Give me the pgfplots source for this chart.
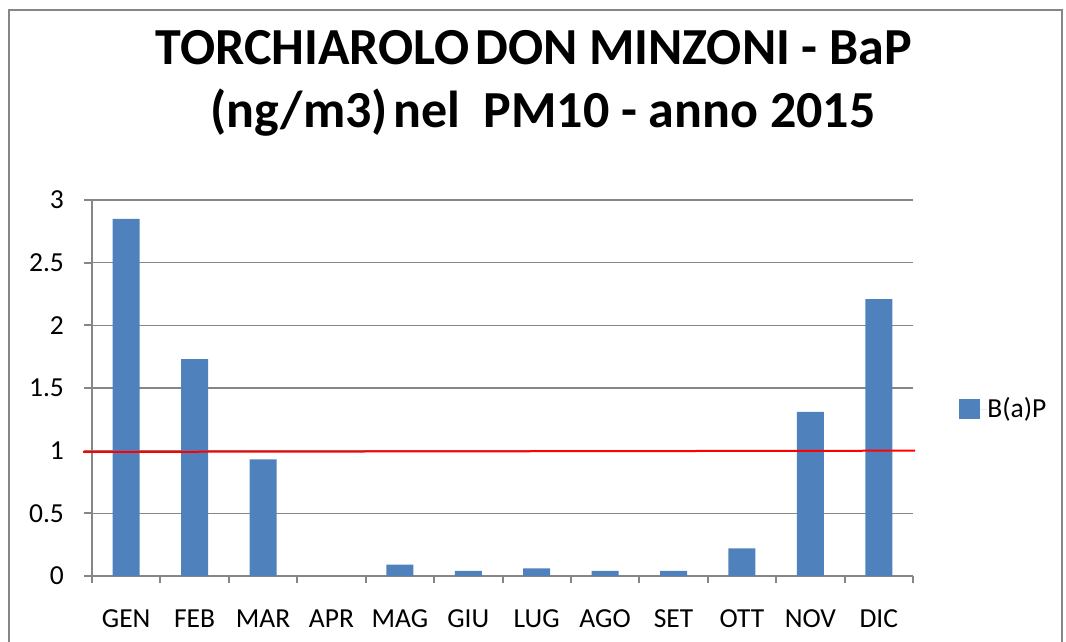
\documentclass[border=0pt]{standalone}
\usepackage{pgfplots}
\pgfplotsset{compat=1.18}
\usepackage{fontspec}
\setmainfont{Carlito}
\definecolor{barblue}{HTML}{4F81BD}
\definecolor{axgray}{HTML}{868686}
\begin{document}
\begin{tikzpicture}
\useasboundingbox (0,0) rectangle (533pt,-321pt);
\draw[axgray, line width=1pt] (4.5pt,-330pt) -- (4.5pt,-5pt) -- (531pt,-5pt) -- (531pt,-330pt);
\node[anchor=base, inner sep=0pt, font=\bfseries\fontsize{26}{31.5}\selectfont] at (267pt,-32.5pt) {TORCHIAROLO\hspace{0.1em}DON MINZONI - BaP};
\node[anchor=base, inner sep=0pt, font=\bfseries\fontsize{26}{31.5}\selectfont] at (271.5pt,-64pt) {(ng/m3)\hspace{0.1em}nel\ \ PM10 - anno 2015};
\begin{axis}[
  at={(46pt,-288pt)}, anchor=south west,
  scale only axis, width=410.5pt, height=188pt,
  xmin=-0.5, xmax=11.5, ymin=0, ymax=3,
  clip=false,
  axis x line*=bottom, axis y line*=left,
  axis line style={axgray, line width=1pt, -},
  xtick={0,...,11},
  xticklabels={GEN,FEB,MAR,APR,MAG,GIU,LUG,AGO,SET,OTT,NOV,DIC},
  minor xtick={-0.5,0.5,...,11.5},
  major x tick style={draw=none},
  minor x tick style={axgray, line width=1pt},
  ytick={0,0.5,...,3},
  y tick style={axgray, line width=1pt},
  tick align=outside,
  major tick length=4pt, minor tick length=3.5pt,
  ymajorgrids, grid style={axgray, line width=0.75pt},
  /pgf/number format/assume math mode=true,
  tick label style={font=\fontsize{13.75}{16}\selectfont, text=black},
  yticklabel style={xshift=-6.5pt},
  xticklabel style={yshift=-9.5pt},
  legend style={at={(1.056,0.443)}, anchor=west, draw=none, fill=none,
    inner sep=0pt, nodes={inner sep=0pt, font=\fontsize{13.75}{16}\selectfont}},
]
\addplot[ybar, bar width=13.5pt, fill=barblue, draw=none,
  legend image code/.code={\fill[barblue] (0pt,-5pt) rectangle (10.5pt,5pt); \path (0pt,0pt) -- (14pt,0pt);}]
  coordinates {(0,2.85) (1,1.73) (2,0.93) (3,0) (4,0.09) (5,0.04) (6,0.06) (7,0.04) (8,0.04) (9,0.22) (10,1.31) (11,2.21)};
\addlegendentry{B(a)P}
\addplot[red, line width=1pt, forget plot] coordinates {(-0.63,0.99) (11.53,1.0)};
\end{axis}
\end{tikzpicture}
\end{document}
